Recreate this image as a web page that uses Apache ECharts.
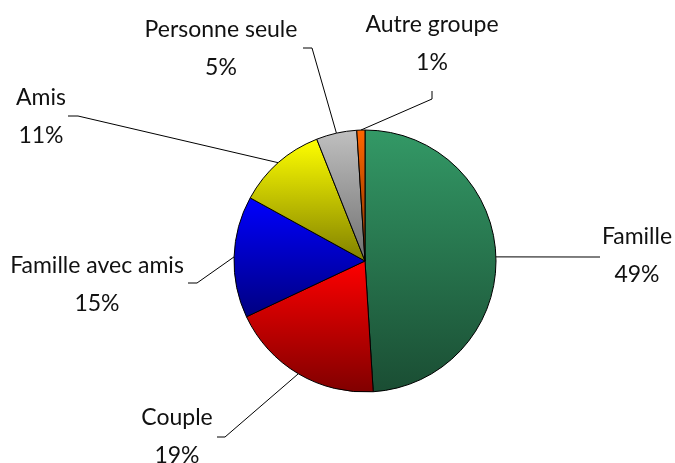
<!DOCTYPE html>
<html>
<head>
    <meta charset="UTF-8">
    <title>Répartition par type de groupe</title>
    <script src="https://cdn.jsdelivr.net/npm/echarts@6/dist/echarts.min.js"></script>
    <style>
        html, body { margin: 0; padding: 0; background: #fff; }
        #chart { width: 675px; height: 463px; }
    </style>
</head>
<body>
    <div id="chart"></div>
    <script>
        // données
        var groupes = ['Famille', 'Couple', 'Famille avec amis', 'Amis', 'Personne seule', 'Autre groupe'];
        var parts = [49, 19, 15, 11, 5, 1];
        // couleurs haut / bas du dégradé
        var couleursHaut = ['#339966', '#ff0000', '#0000ff', '#ffff00', '#c0c0c0', '#ff6600'];
        var couleursBas = ['#1a4d33', '#800000', '#000080', '#808000', '#707070', '#803300'];

        // placement des étiquettes (centre du texte, coude et bout du trait)
        var etiquettes = [
            { x: 637, y: 256, coude: [590, 257], bout: [600, 257] },
            { x: 177, y: 437, coude: [225, 437], bout: [217, 437] },
            { x: 97, y: 285, coude: [197, 283], bout: [188, 283] },
            { x: 41, y: 117, coude: [78, 116], bout: [68, 116] },
            { x: 221, y: 49, coude: [312, 48], bout: [303, 48] },
            { x: 432, y: 44, coude: [432, 99], bout: [432, 91] }
        ];

        var donnees = groupes.map(function (nom, i) {
            return {
                name: nom,
                value: parts[i],
                itemStyle: {
                    color: new echarts.graphic.LinearGradient(0, 0, 0, 1, [
                        { offset: 0, color: couleursHaut[i] },
                        { offset: 1, color: couleursBas[i] }
                    ])
                }
            };
        });

        var option = {
            animation: false,
            series: [{
                type: 'pie',
                center: [365, 261],
                radius: 131,
                startAngle: 90,
                clockwise: true,
                avoidLabelOverlap: false,
                itemStyle: { borderColor: '#000', borderWidth: 1 },
                label: {
                    show: true,
                    position: 'outside',
                    color: '#111',
                    fontFamily: 'Lato',
                    fontSize: 23,
                    lineHeight: 38,
                    align: 'center',
                    formatter: function (p) {
                        return p.name + '\n' + Math.round(p.percent) + '%';
                    }
                },
                labelLine: {
                    show: true,
                    lineStyle: { color: '#000', width: 1 }
                },
                labelLayout: function (params) {
                    var e = etiquettes[params.dataIndex];
                    var pts = params.labelLinePoints;
                    var bord = pts ? pts[0] : [0, 0];
                    return {
                        x: e.x,
                        y: e.y,
                        align: 'center',
                        verticalAlign: 'middle',
                        labelLinePoints: [bord, e.coude, e.bout]
                    };
                },
                data: donnees
            }]
        };

        var chart = echarts.init(document.getElementById('chart'));
        chart.setOption(option);
    </script>
</body>
</html>
